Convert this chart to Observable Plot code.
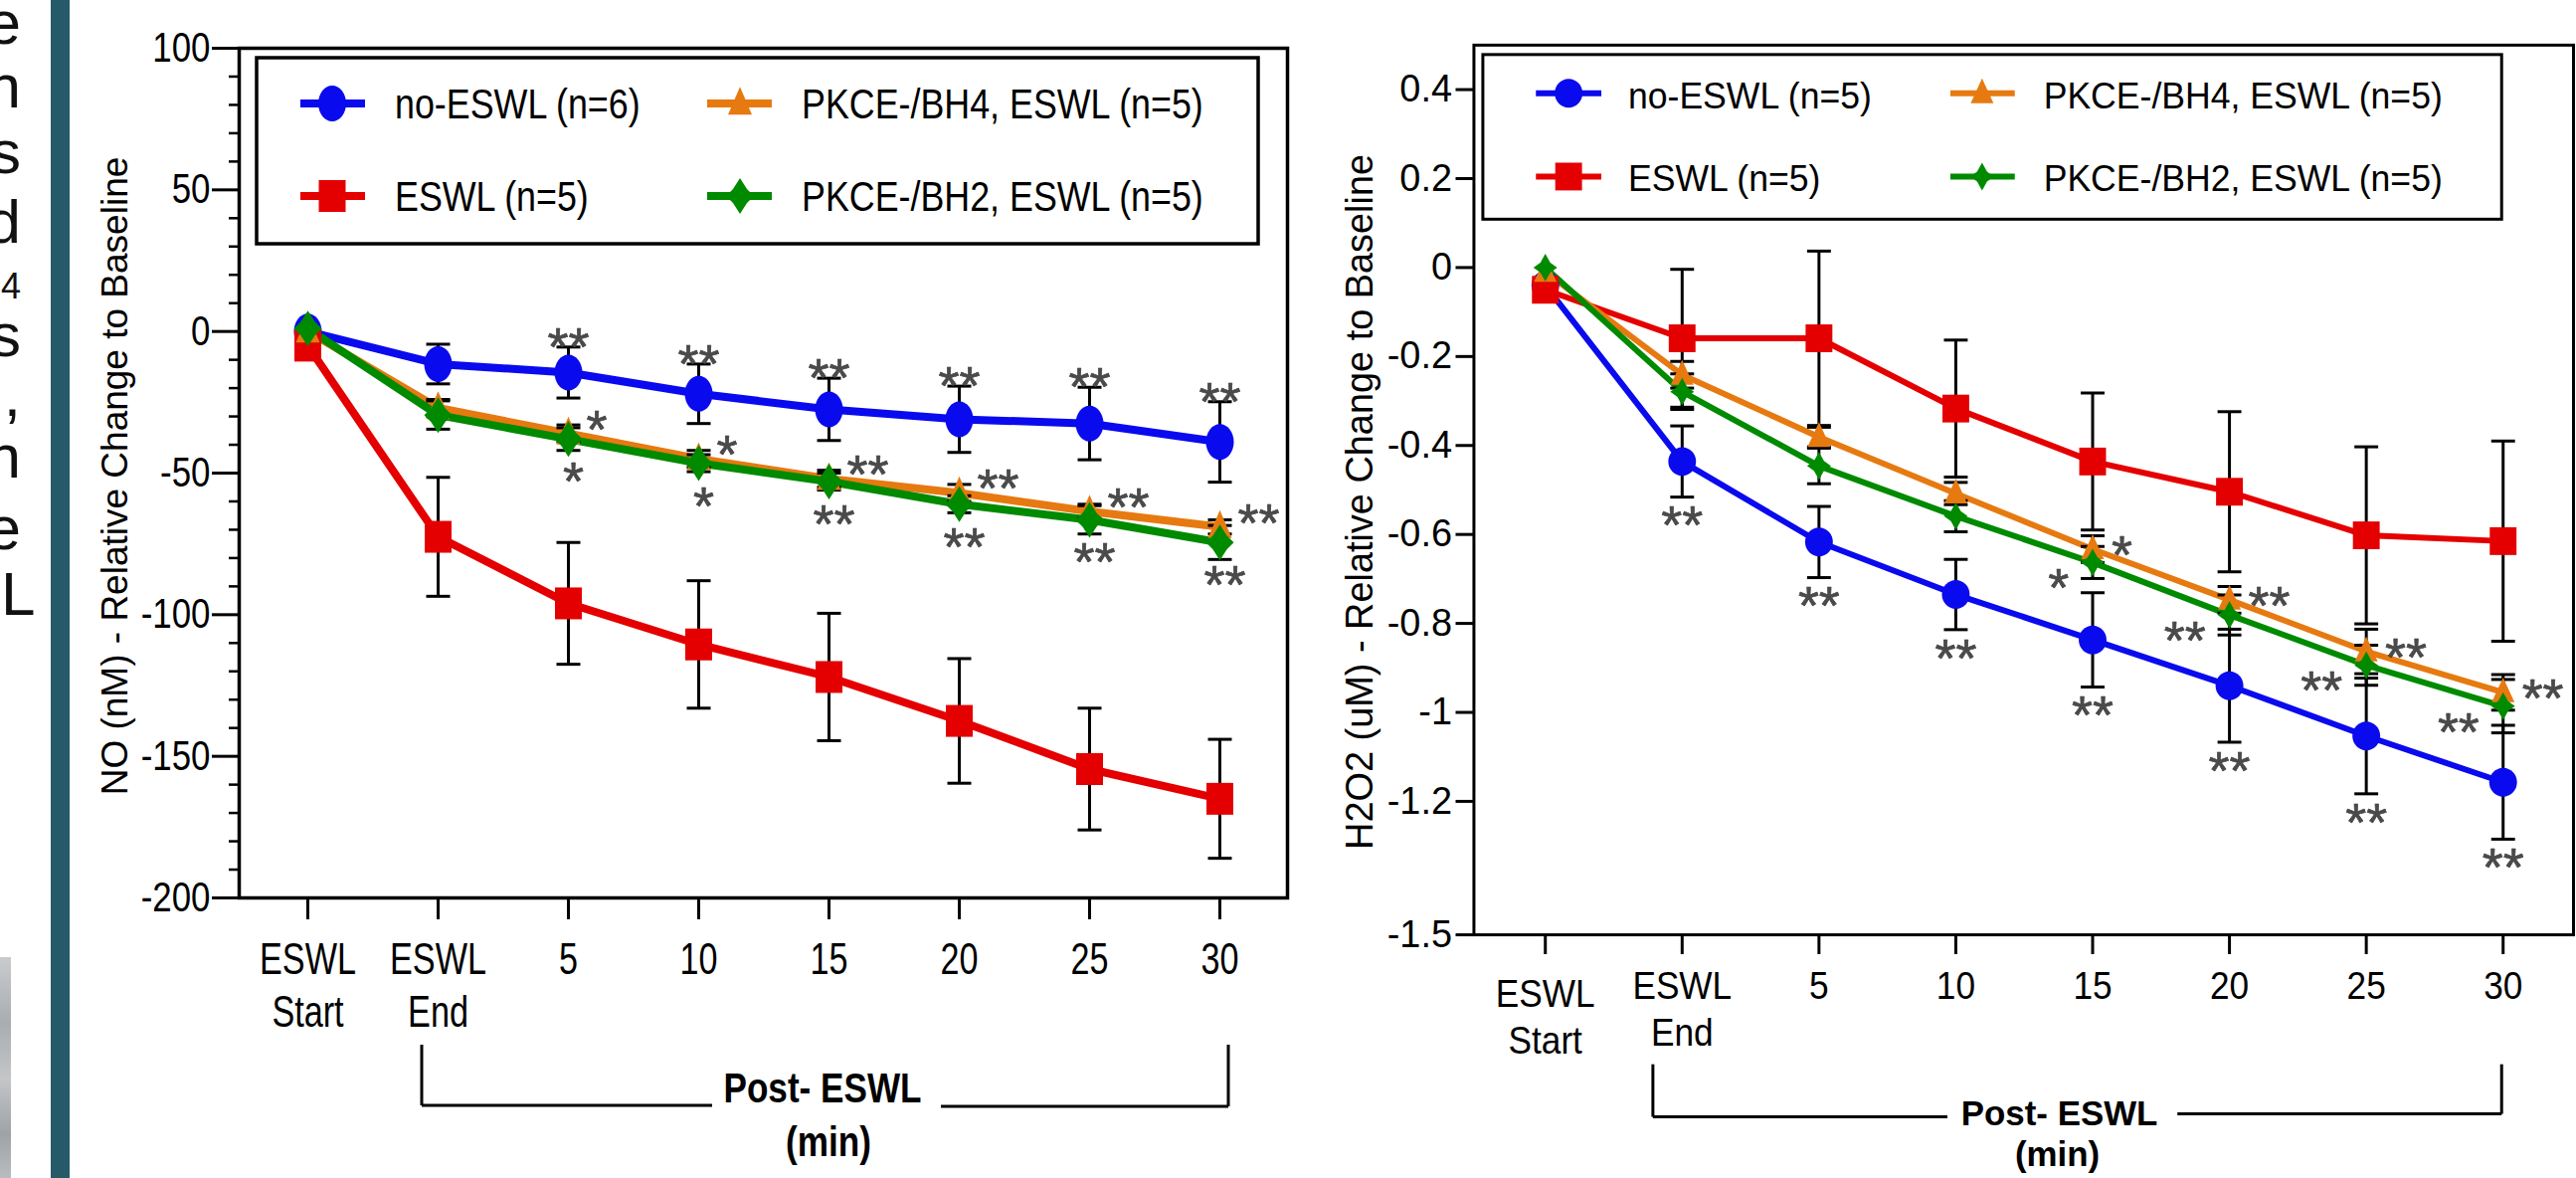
<!DOCTYPE html>
<html>
<head>
<meta charset="utf-8">
<script src="https://cdn.jsdelivr.net/npm/d3@7"></script>
<script src="https://cdn.jsdelivr.net/npm/@observablehq/plot@0.6"></script>
<style>
  html, body { margin: 0; padding: 0; background: #fff; }
  body { width: 2590px; height: 1184px; position: relative; overflow: hidden; font-family: "Liberation Sans", Arial, sans-serif; }
  #bar { position: absolute; left: 51px; top: 0; width: 19px; height: 1184px; background: #265a69; }
  #photo { position: absolute; left: 0; top: 962px; width: 11px; height: 222px;
    background: linear-gradient(180deg, #c9cbcd 0%, #a9adb1 30%, #c4c6c8 55%, #9ea3a7 80%, #b9bcbf 100%); }
  #deco { position: absolute; left: 0; top: 0; }
  #chartL { position: absolute; left: 0; top: 0; }
  #chartR { position: absolute; left: 1300px; top: 0; }
</style>
</head>
<body>
<div id="bar"></div>
<div id="photo"></div>
<svg id="deco" width="60" height="1184"></svg>
<div id="chartL"></div>
<div id="chartR"></div>
<script>
// ---------------- DATA ----------------
const timepoints = ["ESWL Start", "ESWL End", "5", "10", "15", "20", "25", "30"];
const tickLine1 = ["ESWL", "ESWL", "5", "10", "15", "20", "25", "30"];
const tickLine2 = ["Start", "End", "", "", "", "", "", ""];
const xTitle1 = "Post- ESWL";
const xTitle2 = "(min)";

// Left panel: NO (nM)
const noLegend = ["no-ESWL (n=6)", "ESWL (n=5)", "PKCE-/BH4, ESWL (n=5)", "PKCE-/BH2, ESWL (n=5)"];
const noBlue = [0, -11.5, -14.5, -22, -27.5, -31, -32.5, -39];
const noBlueErr = [0, 7, 9, 10.5, 11, 11.7, 12.8, 14.2];
const noRed = [-5, -72.5, -96, -110.5, -122, -137.5, -154.5, -165];
const noRedErr = [0, 21, 21.5, 22.5, 22.5, 22, 21.5, 21];
const noOrange = [0, -27, -36, -45, -52, -57, -63.5, -69];
const noOrangeErr = [0, 3, 3, 3, 3, 3, 2.5, 2.5];
const noGreen = [1, -29.5, -38, -46.5, -53, -61, -66.5, -74.5];
const noGreenErr = [0, 5, 4, 3, 3, 3, 5, 6];
const noBlueSig = ["", "", "**", "**", "**", "**", "**", "**"];
const noOrangeSig = ["", "", "*", "*", "**", "**", "**", "**"];
const noGreenSig = ["", "", "*", "*", "**", "**", "**", "**"];
const noYTicks = [100, 50, 0, -50, -100, -150, -200];
const noYMinor = [90, 80, 70, 60, 40, 30, 20, 10, -10, -20, -30, -40, -60, -70, -80, -90,
  -110, -120, -130, -140, -160, -170, -180, -190];
const noYTitle = "NO (nM) - Relative Change to Baseline";

// Right panel: H2O2 (uM)
const h2Legend = ["no-ESWL (n=5)", "ESWL (n=5)", "PKCE-/BH4, ESWL (n=5)", "PKCE-/BH2, ESWL (n=5)"];
const h2Blue = [-0.04, -0.436, -0.617, -0.735, -0.837, -0.94, -1.053, -1.157];
const h2BlueErr = [0, 0.08, 0.08, 0.079, 0.106, 0.127, 0.13, 0.128];
const h2Red = [-0.05, -0.159, -0.159, -0.317, -0.436, -0.504, -0.602, -0.615];
const h2RedErr = [0, 0.155, 0.196, 0.154, 0.154, 0.18, 0.199, 0.225];
const h2Orange = [-0.01, -0.241, -0.381, -0.508, -0.633, -0.747, -0.863, -0.955];
const h2OrangeErr = [0, 0.03, 0.022, 0.025, 0.03, 0.03, 0.05, 0.04];
const h2Green = [0, -0.279, -0.446, -0.559, -0.663, -0.781, -0.894, -0.986];
const h2GreenErr = [0, 0.04, 0.04, 0.035, 0.036, 0.045, 0.045, 0.06];
const h2BlueSig = ["", "**", "**", "**", "**", "**", "**", "**"];
const h2OrangeSig = ["", "", "", "", "*", "**", "**", "**"];
const h2GreenSig = ["", "", "", "", "*", "**", "**", "**"];
const h2YTicks = [0.4, 0.2, 0, -0.2, -0.4, -0.6, -0.8, -1, -1.2, -1.5];
const h2YTitle = "H2O2 (uM) - Relative Change to Baseline";

// slide remnants at the far left (ends of cropped text lines)
const slideLetters = ["e", "n", "s", "d", "4", "s", ",", "n", "e", "L"];

// ---------------- SYMBOLS ----------------
function ellipseSym(rx, ry) {
  const k = 0.5523;
  return { draw(c) {
    c.moveTo(rx, 0);
    c.bezierCurveTo(rx, ry * k, rx * k, ry, 0, ry);
    c.bezierCurveTo(-rx * k, ry, -rx, ry * k, -rx, 0);
    c.bezierCurveTo(-rx, -ry * k, -rx * k, -ry, 0, -ry);
    c.bezierCurveTo(rx * k, -ry, rx, -ry * k, rx, 0);
    c.closePath();
  }};
}
function rectSym(w, h) { return { draw(c) { c.rect(-w / 2, -h / 2, w, h); } }; }
function triSym(w, h) { return { draw(c) { c.moveTo(0, -h * 0.6); c.lineTo(w / 2, h * 0.4); c.lineTo(-w / 2, h * 0.4); c.closePath(); } }; }
function star4Sym(w, h, k) { return { draw(c) {
  c.moveTo(0, -h / 2); c.lineTo(k, -k); c.lineTo(w / 2, 0); c.lineTo(k, k);
  c.lineTo(0, h / 2); c.lineTo(-k, k); c.lineTo(-w / 2, 0); c.lineTo(-k, -k); c.closePath();
}}; }
function capSym(w) { return { draw(c) { c.moveTo(-w / 2, 0); c.lineTo(w / 2, 0); } }; }
function symPath(sym) { const p = d3.path(); sym.draw(p, 0); return p.toString(); }

const BLUE = "#0a0aee", RED = "#e40000", ORANGE = "#e67a10", GREEN = "#008a00";
const FONT = "Liberation Sans, Arial, sans-serif";

function fitFactor(el, factor) {
  const L = el.getComputedTextLength();
  if (L > 0) { el.setAttribute("textLength", (L * factor).toFixed(1)); el.setAttribute("lengthAdjust", "spacingAndGlyphs"); }
}
function fitLength(el, len, mode) {
  el.setAttribute("textLength", len); el.setAttribute("lengthAdjust", mode);
}

// ---------------- CHART BUILDER ----------------
function buildChart(cfg) {
  const series = cfg.series.map(s => ({
    ...s,
    rows: timepoints.map((t, i) => ({ t, v: s.values[i], e: s.err[i], sig: s.sig ? s.sig[i] : "" }))
  }));
  const marks = [];
  for (const s of series) marks.push(Plot.line(s.rows, { x: "t", y: "v", stroke: s.color, strokeWidth: cfg.lineWidth, strokeLinejoin: "round" }));
  for (const s of series) {
    const er = s.rows.filter(d => d.e > 0);
    marks.push(Plot.ruleX(er, { x: "t", y1: d => d.v - d.e, y2: d => d.v + d.e, stroke: "black", strokeWidth: cfg.errWidth }));
    marks.push(Plot.dot(er, { x: "t", y: d => d.v + d.e, symbol: capSym(cfg.capW), stroke: "black", fill: "none", strokeWidth: cfg.errWidth }));
    marks.push(Plot.dot(er, { x: "t", y: d => d.v - d.e, symbol: capSym(cfg.capW), stroke: "black", fill: "none", strokeWidth: cfg.errWidth }));
  }
  for (const s of series) marks.push(Plot.dot(s.rows, { x: "t", y: "v", symbol: s.symbol, fill: s.color, stroke: "none" }));
  for (const s of series) {
    if (!s.sigOpt) continue;
    const o = s.sigOpt;
    marks.push(Plot.text(s.rows.filter(d => d.sig), {
      x: "t", y: o.y, text: "sig", textAnchor: o.anchor, dx: o.dx, dy: o.dy,
      lineAnchor: "bottom", fontSize: cfg.sigFont, fill: "#4a4a4a", stroke: "#222", strokeWidth: 0.6
    }));
  }
  marks.push(Plot.frame({ stroke: "black", strokeWidth: cfg.frameWidth }));
  marks.push(Plot.axisY({ ticks: cfg.yTicks, tickSize: cfg.yTickSize, tickPadding: cfg.yTickPad, tickFormat: d => String(d),
    fontSize: cfg.yFont, strokeWidth: 3, label: null }));
  if (cfg.yMinor) marks.push(Plot.axisY({ ticks: cfg.yMinor, tickSize: 10, tickFormat: () => "", strokeWidth: 2.5, label: null }));
  marks.push(Plot.axisX({ tickSize: cfg.xTickSize, tickPadding: cfg.xPad1, tickFormat: d => tickLine1[timepoints.indexOf(d)],
    fontSize: cfg.xFont, strokeWidth: 3, label: null }));
  marks.push(Plot.axisX({ tickSize: 0, tickPadding: cfg.xPad2, tickFormat: d => tickLine2[timepoints.indexOf(d)],
    fontSize: cfg.xFont, label: null }));
  marks.push(Plot.text([cfg.yTitle], { text: d => d, frameAnchor: "left", rotate: -90, dx: cfg.titleDx, dy: cfg.titleDy,
    fontSize: cfg.titleFont, ariaLabel: "ytitle", textAnchor: "middle", lineAnchor: "middle" }));

  const chart = Plot.plot({
    width: cfg.width, height: 1184,
    marginLeft: cfg.mL, marginRight: cfg.mR, marginTop: cfg.mT, marginBottom: cfg.mB,
    style: { fontFamily: FONT, background: "transparent", color: "black", overflow: "visible" },
    x: { type: "point", domain: timepoints, padding: 0.5, label: null },
    y: { domain: cfg.yDomain, label: null },
    marks
  });
  document.getElementById(cfg.container).appendChild(chart);

  // squeeze / stretch texts to mimic the stretched original
  chart.querySelectorAll('g[aria-label="x-axis tick label"] text').forEach(t => fitFactor(t, cfg.xFit));
  if (cfg.firstShift) {
    chart.querySelectorAll('g[aria-label="x-axis tick label"]').forEach(g => {
      const t = g.querySelector("text");
      if (t) t.setAttribute("transform", (t.getAttribute("transform") || "") + ` translate(0,${cfg.firstShift})`);
    });
  }
  if (cfg.yFit !== 1) chart.querySelectorAll('g[aria-label="y-axis tick label"] text').forEach(t => fitFactor(t, cfg.yFit));
  chart.querySelectorAll('g[aria-label="ytitle"] text').forEach(t => fitLength(t, cfg.titleLen, cfg.titleMode));

  const svg = d3.select(chart);
  const sx = chart.scale("x");

  // legend
  const L = cfg.legend;
  const lg = svg.append("g");
  lg.append("rect").attr("x", L.box[0]).attr("y", L.box[1]).attr("width", L.box[2] - L.box[0]).attr("height", L.box[3] - L.box[1])
    .attr("fill", "white").attr("stroke", "black").attr("stroke-width", cfg.legendStroke);
  const order = [[0, 0, 0], [2, 1, 0], [1, 0, 1], [3, 1, 1]]; // [series, col, row]
  for (const [si, col, row] of order) {
    const s = series[si], y = L.rows[row];
    lg.append("line").attr("x1", L.lines[col][0]).attr("x2", L.lines[col][1]).attr("y1", y).attr("y2", y)
      .attr("stroke", s.color).attr("stroke-width", cfg.lineWidth);
    lg.append("path").attr("d", symPath(s.symbol)).attr("transform", `translate(${L.marks[col]},${y})`).attr("fill", s.color);
    const tx = lg.append("text").attr("x", L.text[col]).attr("y", y + L.baseOff).attr("font-size", L.font)
      .attr("text-anchor", "start").attr("font-family", FONT).attr("fill", "black").text(s.name);
    fitFactor(tx.node(), L.fit);
  }

  // Post-ESWL bracket
  const B = cfg.bracket;
  const xl = sx.apply("ESWL End") + B.leftOff, xr = sx.apply("30") + B.rightOff;
  const bg = svg.append("g").attr("stroke", "black").attr("stroke-width", 3).attr("fill", "none");
  bg.append("line").attr("x1", xl).attr("x2", xl).attr("y1", B.top).attr("y2", B.yl);
  bg.append("line").attr("x1", xl).attr("x2", B.gap[0]).attr("y1", B.yl).attr("y2", B.yl);
  bg.append("line").attr("x1", B.gap[1]).attr("x2", xr).attr("y1", B.yr).attr("y2", B.yr);
  bg.append("line").attr("x1", xr).attr("x2", xr).attr("y1", B.top).attr("y2", B.yr);
  const t1 = svg.append("text").attr("x", B.t1[0]).attr("y", B.t1[1]).attr("text-anchor", "middle").attr("font-weight", "bold")
    .attr("font-size", B.font).attr("font-family", FONT).attr("fill", "black").text(xTitle1);
  const t2 = svg.append("text").attr("x", B.t2[0]).attr("y", B.t2[1]).attr("text-anchor", "middle").attr("font-weight", "bold")
    .attr("font-size", B.font).attr("font-family", FONT).attr("fill", "black").text(xTitle2);
  fitFactor(t1.node(), B.fit); fitFactor(t2.node(), B.fit);
  return chart;
}

// ---------------- LEFT PANEL ----------------
buildChart({
  container: "chartL", width: 1300, mL: 240, mR: 6, mT: 48, mB: 282,
  yDomain: [-200, 100], yTicks: noYTicks, yMinor: noYMinor, yTickSize: 27, yTickPad: 2, yFont: 42, yFit: 0.83,
  xTickSize: 22, xPad1: 23, xPad2: 98, xFont: 45, xFit: 0.76, firstShift: 0,
  yTitle: noYTitle, titleDx: -124, titleDy: 3, titleFont: 37, titleLen: 770, titleMode: "spacingAndGlyphs",
  lineWidth: 8, errWidth: 3, capW: 24, frameWidth: 3.5, sigFont: 54, legendStroke: 3.5,
  series: [
    { name: noLegend[0], values: noBlue, err: noBlueErr, sig: noBlueSig, color: BLUE, symbol: ellipseSym(14, 18),
      sigOpt: { y: d => d.v + d.e, anchor: "middle", dx: 0, dy: 18 } },
    { name: noLegend[1], values: noRed, err: noRedErr, color: RED, symbol: rectSym(27, 32) },
    { name: noLegend[2], values: noOrange, err: noOrangeErr, sig: noOrangeSig, color: ORANGE, symbol: triSym(24, 28),
      sigOpt: { y: "v", anchor: "start", dx: 18, dy: 14 } },
    { name: noLegend[3], values: noGreen, err: noGreenErr, sig: noGreenSig, color: GREEN, symbol: star4Sym(28, 36, 7),
      sigOpt: { y: "v", anchor: "middle", dx: 5, dy: 61 } }
  ],
  legend: { box: [258, 58, 1265, 245], rows: [104, 197], lines: [[302, 367], [711, 776]], marks: [334, 744], text: [397, 806],
    font: 42, fit: 0.853, baseOff: 15 },
  bracket: { leftOff: -16, rightOff: 9, top: 1050, yl: 1111, yr: 1112, gap: [716, 946], t1: [827, 1108], t2: [833, 1162], font: 42, fit: 0.836 }
});

// ---------------- RIGHT PANEL ----------------
buildChart({
  container: "chartR", width: 1294, mL: 182, mR: 3, mT: 45, mB: 242,
  yDomain: [-1.5, 0.5], yTicks: h2YTicks, yMinor: null, yTickSize: 18, yTickPad: 4, yFont: 38, yFit: 1,
  xTickSize: 20, xPad1: 18, xPad2: 85, xFont: 38, xFit: 0.93, firstShift: 8,
  yTitle: h2YTitle, titleDx: -114, titleDy: 12, titleFont: 38, titleLen: 708, titleMode: "spacing",
  lineWidth: 6, errWidth: 3, capW: 24, frameWidth: 3, sigFont: 54, legendStroke: 3,
  series: [
    { name: h2Legend[0], values: h2Blue, err: h2BlueErr, sig: h2BlueSig, color: BLUE, symbol: ellipseSym(14, 14.5),
      sigOpt: { y: d => d.v - d.e, anchor: "middle", dx: 0, dy: 47 } },
    { name: h2Legend[1], values: h2Red, err: h2RedErr, color: RED, symbol: rectSym(27, 28) },
    { name: h2Legend[2], values: h2Orange, err: h2OrangeErr, sig: h2OrangeSig, color: ORANGE, symbol: triSym(23, 25),
      sigOpt: { y: "v", anchor: "start", dx: 19, dy: 24 } },
    { name: h2Legend[3], values: h2Green, err: h2GreenErr, sig: h2GreenSig, color: GREEN, symbol: star4Sym(24, 28, 5),
      sigOpt: { y: "v", anchor: "end", dx: -24, dy: 44 } }
  ],
  legend: { box: [191.5, 55, 1219, 221], rows: [94, 178], lines: [[245, 311], [663, 728]], marks: [278, 695], text: [338, 757],
    font: 37, fit: 0.965, baseOff: 15 },
  bracket: { leftOff: -29, rightOff: -1, top: 1073, yl: 1126, yr: 1123, gap: [660, 892], t1: [773, 1135], t2: [771, 1176], font: 35, fit: 1 }
});

// ---------------- SLIDE REMNANTS ----------------
const deco = d3.select("#deco");
const letterBase = [44, 108, 174, 244, 300, 358, 418, 480, 552, 618];
slideLetters.forEach((ch, i) => {
  const isL = ch === "L";
  deco.append("text").attr("x", isL ? 1 : 21).attr("y", letterBase[i]).attr("text-anchor", isL ? "start" : "end")
    .attr("font-family", FONT).attr("font-size", ch === "4" ? 36 : 62).attr("fill", "#111").text(ch);
});
</script>
</body>
</html>
